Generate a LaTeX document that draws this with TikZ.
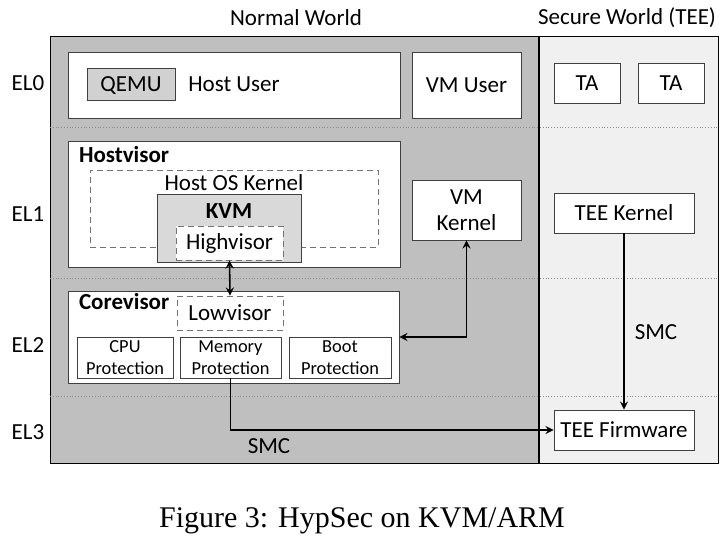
\documentclass[tikz,border=0pt]{standalone}
\usepackage{fontspec}
\setmainfont{Carlito}
\newfontfamily\capfont{Liberation Serif}
\usetikzlibrary{arrows}
\begin{document}
\begin{tikzpicture}[x=0.5pt, y=-0.5pt, font=\fontsize{11.5}{13}\selectfont]
	\tikzstyle{Box} = [rectangle, inner sep=0pt, draw=black!75, fill=white, text centered, align=center]
	\tikzstyle{Dash} = [rectangle, inner sep=0pt, draw=black!55, densely dashed, text centered]
	\tikzstyle{Prot} = [Box, font=\fontsize{9.2}{11}\selectfont, minimum height=20.5pt]
	\tikzstyle{arrow} = [thick,->,>=stealth]
	\tikzstyle{twoway} = [thick,<->,>=stealth]
	\tikzstyle{Sep} = [densely dotted, black!45]
	
	\useasboundingbox (0,0) rectangle (726,539);
	
	% worlds
	\draw [fill=black!25] (50,36) rectangle (539,463);
	\draw [fill=black!6] (539,36) rectangle (718,463);
	\draw [line width=1pt, black] (539,36) -- (539,463);
	\draw [Sep] (50,127) -- (718,127);
	\draw [Sep] (50,278) -- (718,278);
	\draw [Sep] (50,396) -- (718,396);
	\node (nw) at (296,18) {Normal World};
	\node (sw) at (627,18) {Secure World (TEE)};
	
	\node (el0) at (28,83) {EL0};
	\node (el1) at (28,214) {EL1};
	\node (el2) at (28,345) {EL2};
	\node (el3) at (28,432) {EL3};
	
	% EL0
	\node (hostuser) [Box, minimum width=166pt, minimum height=33pt] at (234,85) {};
	\node (qemu) [Box, fill=black!18, text depth=0pt, minimum width=44pt, minimum height=16pt] at (131,84) {QEMU};
	\node (hostlabel) at (234,84) {Host User};
	\node (vmuser) [Box, minimum width=54.5pt, minimum height=33pt] at (466.5,85) {VM User};
	\node (ta1) [Box, minimum width=33pt, minimum height=20pt] at (587,83) {TA};
	\node (ta2) [Box, minimum width=33pt, minimum height=20pt] at (671,83) {TA};
	
	% EL1
	\node (hostvisor) [Box, minimum width=166pt, minimum height=63pt] at (234,204) {};
	\node (hostvisorlabel) [anchor=west, font=\fontsize{11.5}{13}\selectfont\bfseries] at (72,155) {Hostvisor};
	\node (hostos) [Dash, minimum width=144pt, minimum height=38.5pt] at (234,208.5) {};
	\node (hostoslabel) at (234,183) {Host OS Kernel};
	\node (kvm) [Box, fill=black!15, minimum width=72pt, minimum height=34pt] at (229,228) {};
	\node (kvmlabel) [font=\fontsize{11.5}{13}\selectfont\bfseries] at (229,211) {KVM};
	\node (highvisor) [Dash, fill=white, minimum width=53.5pt, minimum height=17pt] at (229.5,243) {Highvisor};
	\node (vmkernel) [Box, minimum width=54.5pt, minimum height=30pt] at (466.5,210) {VM\\Kernel};
	\node (teekernel) [Box, minimum width=70pt, minimum height=20pt] at (624,213) {TEE Kernel};
	
	% EL2
	\node (corevisor) [Box, minimum width=165.5pt, minimum height=46pt] at (233.5,337) {};
	\node (corevisorlabel) [anchor=west, font=\fontsize{11.5}{13}\selectfont\bfseries] at (72,302) {Corevisor};
	\node (lowvisor) [Dash, minimum width=53pt, minimum height=17pt] at (230,313) {Lowvisor};
	\node (cpu) [Prot, minimum width=48pt] at (125,357.5) {CPU\\Protection};
	\node (memory) [Prot, minimum width=50.5pt] at (230.5,357.5) {Memory\\Protection};
	\node (boot) [Prot, minimum width=51pt] at (340,357.5) {Boot\\Protection};
	
	% EL3
	\node (teefw) [Box, minimum width=70pt, minimum height=20pt] at (624,430) {TEE Firmware};
	
	\node (smc1) at (269,446) {SMC};
	\node (smc2) at (656,332) {SMC};
	
	\draw [twoway] (highvisor.south) -- (lowvisor.north);
	\draw [twoway] (vmkernel.south) |- (corevisor.east);
	\draw [arrow] (memory.south) |- (teefw.west);
	\draw [arrow] (teekernel.south) -- (teefw.north);
	
	\node (caption) [font=\capfont\fontsize{15}{17}\selectfont] at (362,521) {Figure 3: HypSec on KVM/ARM};
\end{tikzpicture}
\end{document}
